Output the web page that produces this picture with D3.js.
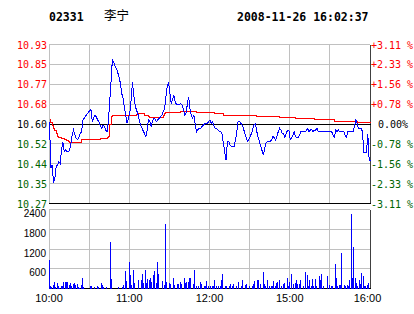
<!DOCTYPE html>
<html><head><meta charset="utf-8">
<script src="https://cdn.jsdelivr.net/npm/d3@7"></script>
<style>body{margin:0;background:#fff}svg{display:block}</style>
</head><body>
<script>
const stockCode = "02331";
const stockName = "李宁";
const stamp = "2008-11-26 16:02:37";
const prevClose = 10.60;
const pctValues = [3.11, 2.33, 1.56, 0.78, 0, -0.78, -1.56, -2.33, -3.11];
const priceTicks = ["10.93","10.85","10.77","10.68","10.60","10.52","10.44","10.35","10.27"];
const volTicks = [600, 1200, 1800, 2400];
const timeTicks = [0, 60, 120, 180, 240];
const timeLabels = ["10:00", "11:00", "12:00", "15:00", "16:00"];
const gridMinutes = [0, 30, 60, 90, 120, 150, 180, 210, 240];

// price per minute, minute 0..240
const price = [
10.61,10.416,10.43,10.354,10.375,10.423,10.43,10.444,10.437,10.492,
10.523,10.485,10.492,10.485,10.485,10.492,10.52,10.554,10.575,10.554,
10.54,10.536,10.545,10.561,10.568,10.617,10.624,10.633,10.641,10.647,
10.655,10.661,10.61,10.624,10.637,10.63,10.617,10.61,10.592,10.582,
10.596,10.589,10.575,10.568,10.61,10.693,10.776,10.866,10.855,10.841,
10.831,10.813,10.796,10.769,10.727,10.706,10.665,10.637,10.603,10.624,
10.644,10.70,10.773,10.72,10.679,10.658,10.644,10.617,10.596,10.586,
10.572,10.561,10.547,10.575,10.617,10.61,10.589,10.61,10.624,10.619,
10.61,10.617,10.624,10.63,10.637,10.651,10.661,10.713,10.755,10.773,
10.727,10.686,10.70,10.72,10.689,10.682,10.679,10.679,10.686,10.679,
10.665,10.637,10.644,10.679,10.713,10.665,10.637,10.624,10.637,10.596,
10.568,10.578,10.582,10.582,10.589,10.596,10.60,10.603,10.603,10.61,
10.617,10.603,10.61,10.592,10.582,10.581,10.575,10.568,10.568,10.558,
10.52,10.485,10.451,10.527,10.527,10.513,10.506,10.506,10.506,10.531,
10.568,10.61,10.61,10.603,10.596,10.582,10.561,10.545,10.527,10.534,
10.547,10.561,10.579,10.596,10.60,10.568,10.545,10.527,10.506,10.488,
10.471,10.502,10.523,10.527,10.527,10.527,10.534,10.547,10.545,10.534,
10.547,10.568,10.582,10.575,10.561,10.561,10.545,10.561,10.575,10.575,
10.534,10.541,10.554,10.568,10.547,10.545,10.545,10.554,10.568,10.568,
10.568,10.568,10.572,10.582,10.568,10.575,10.578,10.568,10.575,10.575,
10.582,10.568,10.568,10.568,10.568,10.568,10.568,10.568,10.568,10.568,
10.568,10.568,10.554,10.545,10.575,10.568,10.575,10.568,10.568,10.568,
10.568,10.554,10.545,10.568,10.568,10.568,10.568,10.568,10.589,10.617,
10.603,10.582,10.582,10.582,10.568,10.48,10.48,10.48,10.56,10.45,
10.45
];

const avgMinute = [0,1,2,3,4,5,6,7,9,10,11,12,13,14,15,24,25,38,43,44,45,46,47,65,66,71,73,74,75,85,86,87,98,110,123,130,155,172,184,198,213,224,230,235,240];
const avgPrice  = [10.619,10.606,10.592,10.582,10.572,10.561,10.55,10.545,10.541,10.538,10.536,10.534,10.531,10.527,10.524,10.534,10.536,10.541,10.543,10.55,10.60,10.633,10.636,10.64,10.644,10.637,10.635,10.63,10.628,10.637,10.644,10.647,10.65,10.647,10.644,10.637,10.63,10.626,10.624,10.617,10.612,10.61,10.608,10.606,10.603];

const volMinute = [0,1,2,3,4,5,6,7,8,9,10,11,12,13,14,15,16,17,18,19,20,21,22,23,24,25,26,31,32,34,36,37,39,40,41,43,46,47,52,55,56,57,58,60,61,62,63,
64,67,69,70,71,72,73,74,75,76,77,78,79,80,81,82,85,86,87,88,90,91,93,94,96,97,98,99,101,102,103,104,105,106,108,109,110,112,113,114,116,117,118,119,121,122,123,124,125,127,128,129,130,132,133,135,136,137,138,140,142,144,145,147,148,150,152,153,154,156,157,158,160,
161,162,163,165,166,167,168,169,170,171,172,174,175,176,178,179,180,181,183,184,185,186,187,188,190,192,193,194,195,196,197,198,199,200,202,203,204,205,208,210,211,212,214,215,216,217,218,219,221,222,223,224,225,226,227,228,229,230,231,232,233,234,235,236,237,238,239];
const volume = [880,80,60,100,190,60,160,70,30,80,70,210,200,210,200,120,160,80,140,180,100,130,40,30,120,320,60,70,70,40,90,50,160,100,60,60,1420,280,60,50,100,530,230,820,400,100,550,
170,250,270,430,170,550,170,300,250,330,200,400,530,170,820,430,220,100,1970,200,180,150,330,100,150,150,200,130,330,180,200,200,330,330,130,570,70,70,200,150,70,70,220,70,70,70,70,250,70,70,70,270,430,70,70,70,150,70,150,70,200,70,270,100,150,70,70,150,220,250,250,130,500,
150,70,250,70,70,70,220,70,170,200,250,70,150,170,320,70,200,430,150,170,250,150,150,250,70,500,400,70,250,70,300,70,300,70,370,250,430,70,370,100,70,70,750,320,70,100,100,1070,100,70,100,70,250,2270,320,1250,330,170,70,250,150,470,370,70,70,100,170];

const W = 414, H = 314;
const svg = d3.select("body").append("svg").attr("width", W).attr("height", H)
  .style("font-family", "'DejaVu Sans Mono', monospace");

const x = d3.scaleLinear().domain([0, 240]).range([49, 370]);
const yPct = d3.scaleLinear().domain([-3.11, 3.11]).range([203.5, 44.5]);
const yP = p => yPct((p / prevClose - 1) * 100);
const yV = d3.scaleLinear().domain([0, 2400]).range([288.5, 209.5]);
const px = v => Math.floor(v) + 0.5;
const GRID = "#c0c0c0";

// header
svg.append("text").attr("x", 49).attr("y", 21).attr("font-weight", "bold").attr("font-size", 11.5).text(stockCode);
svg.append("text").attr("x", 104).attr("y", 20).attr("font-family", "'Noto Sans CJK SC'").attr("font-size", 12.5).text(stockName);
svg.append("text").attr("x", 237).attr("y", 21).attr("font-weight", "bold").attr("font-size", 11.5).text(stamp);

const g = svg.append("g").attr("shape-rendering", "crispEdges");

// price grid horizontals
pctValues.forEach((p, i) => {
  const yy = px(yPct(p));
  const col = (i === 4 || i === pctValues.length - 1) ? "#000" : GRID;
  if (i === 4 || i === pctValues.length - 1) return;
  g.append("line").attr("x1", x(0)).attr("x2", x(240)).attr("y1", yy).attr("y2", yy).attr("stroke", col);
});
// volume grid horizontals
[0, ...volTicks].forEach(v => {
  if (v === 0) return;
  const yy = px(yV(v));
  g.append("line").attr("x1", x(0)).attr("x2", x(240)).attr("y1", yy).attr("y2", yy).attr("stroke", GRID);
});
// verticals
gridMinutes.forEach((m, i) => {
  const xx = px(x(m));
  const last = i === gridMinutes.length - 1;
  [[yPct(3.11), yPct(-3.11)], [yV(2400), yV(0)]].forEach(([a, b]) => {
    g.append("line").attr("x1", xx).attr("x2", xx).attr("y1", px(a)).attr("y2", px(b))
      .attr("stroke", last ? "#404040" : GRID);
  });
});
// black lines
g.append("line").attr("x1", x(0)).attr("x2", x(240) + 1).attr("y1", px(yPct(0))).attr("y2", px(yPct(0))).attr("stroke", "#000");
g.append("line").attr("x1", x(0)).attr("x2", x(240) + 1).attr("y1", px(yPct(-3.11))).attr("y2", px(yPct(-3.11))).attr("stroke", "#000");
g.append("line").attr("x1", x(0)).attr("x2", x(240) + 1).attr("y1", px(yV(0))).attr("y2", px(yV(0))).attr("stroke", "#000");

// volume bars
g.selectAll("rect.v").data(volMinute).join("rect")
  .attr("x", (m) => Math.floor(x(m)))
  .attr("width", 1)
  .attr("y", (m, i) => Math.round(yV(volume[i])))
  .attr("height", (m, i) => Math.max(1, Math.round(yV(0)) - Math.round(yV(volume[i]))))
  .attr("fill", "#0000ff");

// avg line
const avgData = avgMinute.map((m, i) => [m, avgPrice[i]]);
g.append("path").datum(avgData)
  .attr("d", d3.line().x(d => x(d[0]) + 0.5).y(d => yP(d[1])).curve(d3.curveStepAfter))
  .attr("fill", "none").attr("stroke", "#ff0000").attr("stroke-width", 1);

// price line
g.append("path").datum(price)
  .attr("d", d3.line().x((d, i) => x(i) + 0.5).y(d => yP(d)))
  .attr("fill", "none").attr("stroke", "#0000ff").attr("stroke-width", 1);

// left price labels
pctValues.forEach((p, i) => {
  const col = p > 0 ? "#ff0000" : (p < 0 ? "#006400" : "#000");
  svg.append("text").attr("x", 47).attr("y", yPct(p) + 4).attr("text-anchor", "end")
    .attr("font-size", 10).attr("fill", col).text(priceTicks[i]);
  const lbl = p > 0 ? "+" + p.toFixed(2) + " %" : (p < 0 ? "-" + Math.abs(p).toFixed(2) + " %" : "0.00%");
  svg.append("text").attr("x", p === 0 ? 378 : 371).attr("y", yPct(p) + 4)
    .attr("font-size", 10).attr("fill", col).attr("xml:space", "preserve").text(lbl);
});

// volume labels
volTicks.forEach(v => {
  svg.append("text").attr("x", 46).attr("y", yV(v) + 7.5).attr("text-anchor", "end")
    .attr("font-family", "'Liberation Sans', Arial, sans-serif").attr("font-size", 10).text(v);
});

// time labels
timeTicks.forEach((m, i) => {
  svg.append("text").attr("x", x(m) - (i === timeTicks.length - 1 ? 2.5 : 0)).attr("y", 302).attr("text-anchor", "middle")
    .attr("font-family", "'Liberation Sans', Arial, sans-serif").attr("font-size", 11).text(timeLabels[i]);
});
</script>
</body></html>
